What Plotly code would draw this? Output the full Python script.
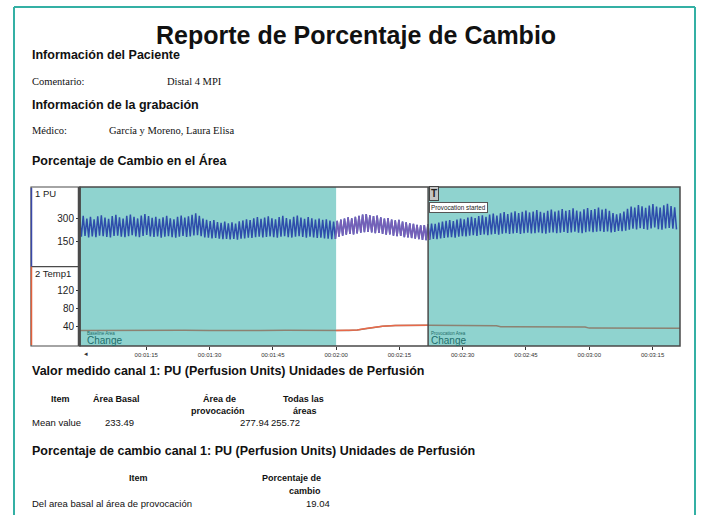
import plotly.graph_objects as go
import numpy as np

W, H = 701, 515

# ---------------------------------------------------------------------------
# Data read from the report
# ---------------------------------------------------------------------------
# PU (perfusion units): one peak and one trough per heart beat
pu_peaks = [305, 318, 300, 312, 296, 315, 322, 306, 298, 316,
            324, 309, 300, 318, 326, 312, 301, 320, 330, 316,
            305, 312, 298, 308, 318, 302, 296, 312, 320, 306,
            314, 325, 335, 318, 300, 292, 284, 290, 278, 272,
            280, 270, 276, 268, 282, 288, 296, 290, 302, 310,
            298, 306, 314, 302, 295, 310, 318, 304, 296, 312,
            320, 306, 298, 310, 302, 294, 300, 292, 296, 288,
            280, 286, 294, 300, 308, 302, 312, 318, 326, 330,
            322, 316, 320, 308, 300, 304, 294, 288, 292, 280,
            276, 270, 266, 260, 256, 258, 262, 268, 266, 274,
            280, 286, 290, 284, 294, 300, 296, 306, 312, 304,
            316, 322, 312, 326, 332, 320, 334, 342, 330, 340,
            348, 336, 344, 352, 340, 346, 356, 344, 338, 350,
            358, 346, 352, 362, 350, 356, 366, 352, 346, 360,
            368, 356, 362, 372, 358, 364, 350, 336, 328, 334,
            346, 364, 378, 372, 388, 380, 370, 384, 394, 378,
            372, 386, 396, 382, 374]
pu_troughs = [182, 188, 178, 185, 180, 190, 186, 181, 178, 187,
              190, 183, 179, 186, 192, 184, 180, 188, 194, 185,
              181, 184, 177, 182, 186, 179, 176, 183, 188, 181,
              184, 190, 193, 186, 178, 176, 172, 175, 170, 167,
              169, 165, 168, 164, 170, 172, 177, 174, 179, 183,
              178, 181, 185, 180, 176, 182, 186, 180, 177, 183,
              186, 181, 177, 182, 178, 174, 176, 172, 170, 166,
              168, 182, 190, 196, 200, 198, 204, 208, 212, 214,
              210, 206, 207, 200, 196, 197, 190, 186, 187, 180,
              178, 174, 170, 166, 162, 160, 164, 168, 166, 171,
              174, 178, 180, 177, 183, 186, 184, 189, 192, 188,
              194, 197, 192, 198, 201, 196, 202, 205, 200, 204,
              207, 201, 205, 209, 203, 206, 211, 205, 202, 208,
              211, 205, 208, 213, 207, 210, 215, 208, 205, 212,
              216, 212, 215, 219, 213, 216, 210, 214, 220, 218,
              222, 228, 234, 230, 238, 233, 228, 236, 242, 232,
              228, 236, 240, 234, 230]
pu_start = 59.2        # seconds
pu_half_beat = 0.43    # seconds between a peak and the next trough

# Temp1
temp_t = [59.3, 66, 72, 78, 84, 90, 96, 102, 108, 114, 120, 123, 125, 127, 129,
          131, 134, 138, 141.8, 150, 158, 159, 170, 179, 180, 190, 201.5]
temp_v = [32, 32.5, 32, 32, 32.5, 32, 31.5, 32, 32.5, 32, 32, 32, 33, 36, 39,
          41, 42.5, 43, 43, 42.5, 42, 40, 40, 39.5, 37, 37, 36.5]

view_range = [59.3, 201.5]
baseline_area = [59.3, 120.0]
provocation_area = [141.8, 201.5]

tick_secs = [75, 90, 105, 120, 135, 150, 165, 180, 195]
tick_labels = ['00:01:15', '00:01:30', '00:01:45', '00:02:00', '00:02:15',
               '00:02:30', '00:02:45', '00:03:00', '00:03:15']
pu_ticks = [150, 300]
temp_ticks = [40, 80, 120]

mean_basal = 233.49
mean_provocacion = 277.94
mean_todas = 255.72
change_pct = 19.04

# ---------------------------------------------------------------------------
SANS = 'Liberation Sans, Arial, sans-serif'
SERIF = 'Liberation Serif, Times New Roman, serif'
CYAN = '#8fd3cf'
FRAME = '#4a4a4a'
TEAL = '#34b0a4'


def px(x):
    return x / W


def py(y):
    return 1 - y / H


pu = np.column_stack([pu_peaks, pu_troughs]).ravel()
pu_time = pu_start + np.arange(pu.size) * pu_half_beat
temp_t = np.array(temp_t)
temp_v = np.array(temp_v)

# white (un-shaded) gap between the two areas
gap = (pu_time >= baseline_area[1] - pu_half_beat) & (pu_time <= provocation_area[0] + pu_half_beat)
tgap = (temp_t >= baseline_area[1]) & (temp_t <= provocation_area[0])

fig = go.Figure()
fig.add_trace(go.Scatter(x=pu_time, y=pu, mode='lines', yaxis='y', hoverinfo='skip',
                         line=dict(color='#2e4dab', width=1.5)))
fig.add_trace(go.Scatter(x=pu_time[gap], y=pu[gap], mode='lines', yaxis='y', hoverinfo='skip',
                         line=dict(color='#7760b8', width=1.5)))
fig.add_trace(go.Scatter(x=temp_t, y=temp_v, mode='lines', yaxis='y2', hoverinfo='skip',
                         line=dict(color='#8c8272', width=1.5)))
fig.add_trace(go.Scatter(x=temp_t[tgap], y=temp_v[tgap], mode='lines', yaxis='y2', hoverinfo='skip',
                         line=dict(color='#e8694a', width=1.5)))

top, mid, bot = 187, 266.7, 346
left, right = 80, 680

shapes = []
# page frame (open at the bottom)
for x0, y0, x1, y1 in [(14, 7, 695, 7), (14, 7, 14, 515), (695, 7, 695, 515)]:
    shapes.append(dict(type='line', xref='paper', yref='paper', x0=px(x0), x1=px(x1), y0=py(y0), y1=py(y1),
                       line=dict(color=TEAL, width=2)))
# shaded areas
for a in [baseline_area, provocation_area]:
    shapes.append(dict(type='rect', xref='x', yref='paper', x0=a[0], x1=a[1], y0=py(bot), y1=py(top),
                       fillcolor=CYAN, line=dict(width=0), layer='below'))
# provocation start marker line
shapes.append(dict(type='line', xref='x', yref='paper', x0=provocation_area[0], x1=provocation_area[0],
                   y0=py(bot), y1=py(top), line=dict(color=FRAME, width=1.5)))
# plot frame
shapes.append(dict(type='rect', xref='paper', yref='paper', x0=px(left), x1=px(right), y0=py(bot), y1=py(top),
                   line=dict(color=FRAME, width=1.5)))
# channel label panel
shapes.append(dict(type='rect', xref='paper', yref='paper', x0=px(31), x1=px(left), y0=py(bot), y1=py(top),
                   line=dict(color=FRAME, width=1.2)))
shapes.append(dict(type='line', xref='paper', yref='paper', x0=px(31), x1=px(left), y0=py(mid), y1=py(mid),
                   line=dict(color=FRAME, width=1.2)))
shapes.append(dict(type='line', xref='paper', yref='paper', x0=px(79), x1=px(79), y0=py(bot), y1=py(top),
                   line=dict(color=FRAME, width=2.5)))
shapes.append(dict(type='line', xref='paper', yref='paper', x0=px(31.5), x1=px(31.5), y0=py(mid), y1=py(top + 1),
                   line=dict(color='#3a48a8', width=1.5)))
shapes.append(dict(type='line', xref='paper', yref='paper', x0=px(31.5), x1=px(31.5), y0=py(bot - 1), y1=py(mid),
                   line=dict(color='#e0603c', width=1.5)))

ann = []


def txt(x, y, text, size=9.5, bold=False, family=SANS, xanchor='left', color='#111', xref='paper', **kw):
    ann.append(dict(x=px(x) if xref == 'paper' else x, y=py(y), xref=xref, yref='paper',
                    text='<b>%s</b>' % text if bold else text, showarrow=False,
                    xanchor=xanchor, yanchor='middle',
                    font=dict(family=family, size=size, color=color), **kw))


# header
txt(355.5, 35, 'Reporte de Porcentaje de Cambio', size=25, bold=True, xanchor='center')
txt(30, 55, 'Información del Paciente', size=12.5, bold=True)
txt(30, 81, 'Comentario:', size=10.5, family=SERIF)
txt(165, 81, 'Distal 4 MPI', size=10.5, family=SERIF)
txt(30, 105, 'Información de la grabación', size=12.5, bold=True)
txt(30, 130, 'Médico:', size=10.5, family=SERIF)
txt(107, 130, 'García y Moreno, Laura Elisa', size=10.5, family=SERIF)
txt(30, 161, 'Porcentaje de Cambio en el Área', size=12.5, bold=True)

# chart labels
txt(33, 193, '1 PU', size=9.5, color='#222')
txt(33, 273, '2 Temp1', size=9.5, color='#222')
txt(82, 353, '◂', size=7, color='#333')
txt(baseline_area[0] + 1.2, 333, 'Baseline Area', size=4.5, color='#1d6e6a', xref='x')
txt(baseline_area[0] + 1.2, 340, 'Change', size=10, color='#1d6e6a', xref='x')
txt(provocation_area[0] + 0.3, 333, 'Provocation Area', size=4.5, color='#1d6e6a', xref='x')
txt(provocation_area[0] + 0.3, 340, 'Change', size=10, color='#1d6e6a', xref='x')
txt(provocation_area[0] + 0.2, 194, 'T', size=10, bold=True, color='#222', xref='x',
    bgcolor='#c4c4c4', bordercolor='#444', borderwidth=1, borderpad=1)
txt(provocation_area[0] + 0.2, 207, 'Provocation started', size=6.3, color='#222', xref='x',
    bgcolor='white', bordercolor='#555', borderwidth=1, borderpad=1)

# table 1
txt(30, 371, 'Valor medido canal 1: PU (Perfusion Units) Unidades de Perfusión', size=12.5, bold=True)
txt(60, 399, 'Item', size=9, bold=True, xanchor='center')
txt(116, 399, 'Área Basal', size=9, bold=True, xanchor='center')
txt(220, 399, 'Área de', size=9, bold=True, xanchor='center')
txt(218, 411, 'provocación', size=9, bold=True, xanchor='center')
txt(303, 399, 'Todas las', size=9, bold=True, xanchor='center')
txt(305, 411, 'áreas', size=9, bold=True, xanchor='center')
txt(30, 422, 'Mean value', size=9.5)
txt(136, 422, '%.2f' % mean_basal, size=9.5, xanchor='right')
txt(271, 422, '%.2f' % mean_provocacion, size=9.5, xanchor='right')
txt(302, 422, '%.2f' % mean_todas, size=9.5, xanchor='right')

# table 2
txt(30, 451, 'Porcentaje de cambio canal 1: PU (Perfusion Units) Unidades de Perfusión', size=12.5, bold=True)
txt(138, 478, 'Item', size=9, bold=True, xanchor='center')
txt(291, 478, 'Porcentaje de', size=9, bold=True, xanchor='center')
txt(305, 491, 'cambio', size=9, bold=True, xanchor='center')
txt(30, 503, 'Del area basal al área de provocación', size=9.5)
txt(332, 503, '%.2f' % change_pct, size=9.5, xanchor='right')

fig.update_layout(
    width=W, height=H, margin=dict(l=0, r=0, t=0, b=0),
    paper_bgcolor='white', plot_bgcolor='white', showlegend=False,
    font=dict(family=SANS), hovermode=False,
    xaxis=dict(domain=[px(left), px(right)], range=view_range, anchor='y2',
               tickvals=tick_secs, ticktext=tick_labels, ticks='outside', ticklen=3,
               tickcolor='#333', tickfont=dict(size=6, color='#333'),
               showgrid=False, zeroline=False, showline=False),
    yaxis=dict(domain=[py(mid), py(top)], range=[-12, 505], anchor='x',
               tickvals=pu_ticks, ticks='outside', ticklen=3, tickcolor='#333',
               tickfont=dict(size=10, color='#222'), showgrid=False, zeroline=False, showline=False),
    yaxis2=dict(domain=[py(bot), py(mid)], range=[-2, 171], anchor='x',
                tickvals=temp_ticks, ticks='outside', ticklen=3, tickcolor='#333',
                tickfont=dict(size=10, color='#222'), showgrid=False, zeroline=False, showline=False),
    shapes=shapes, annotations=ann,
)

# the page has a default 8px body margin; drop it so the figure fills the window
fig.write_html('out.html', config={'displayModeBar': False},
               post_script="document.body.style.margin='0';")
